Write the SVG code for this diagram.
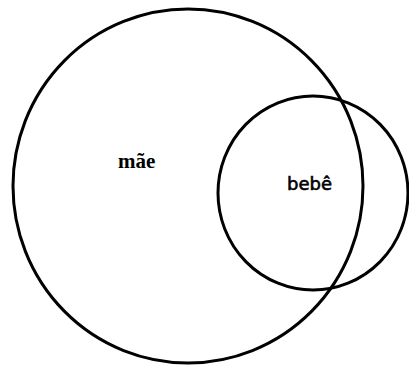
<svg xmlns="http://www.w3.org/2000/svg" width="409" height="367" viewBox="0 0 409 367">
<style>
.c{fill:none;stroke:#000;stroke-width:3}
.t1{font-family:"Liberation Serif",serif;font-weight:bold;font-size:21px}
.t2{font-family:"DejaVu Sans",sans-serif;font-size:18px;stroke:#000;stroke-width:0.6}
</style>
<rect width="409" height="367" fill="#fff"/>
<g id="mae">
<ellipse class="c" cx="188" cy="186" rx="175" ry="177"/>
<text class="t1" x="118" y="168">mãe</text>
</g>
<g id="bebe">
<ellipse class="c" cx="313" cy="193" rx="95" ry="97"/>
<text class="t2" x="287" y="190">bebê</text>
</g>
<g id="connectors"/>
</svg>
